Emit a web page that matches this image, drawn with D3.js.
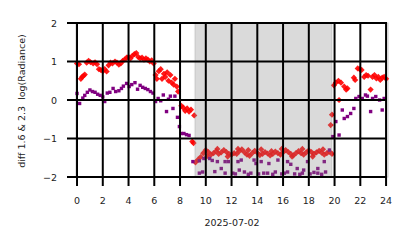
<!DOCTYPE html>
<html>
<head>
<meta charset="utf-8">
<script src="https://cdn.jsdelivr.net/npm/d3@7"></script>
<style>
	body { margin: 0; background: #fff; }
	text { font-family: "DejaVu Sans", sans-serif; fill: #222; }
</style>
</head>
<body>
<script>
// ticks and labels
var xTicks = [0, 2, 4, 6, 8, 10, 12, 14, 16, 18, 20, 22, 24];
var yTicks = [-2, -1, 0, 1, 2];
var xLabel = "2025-07-02";
var yLabel = "diff 1.6 & 2.3  log(Radiance)";
var nightSpan = [9.15, 19.8];

// [hour, value] for the red diamonds
var redObs = [
	[0.0,0.95],[0.15,0.93],[0.3,0.55],[0.4,0.6],[0.5,0.63],[0.6,0.66],[0.75,0.97],[0.9,1.02],
	[1.05,0.98],[1.25,0.95],[1.4,0.98],[1.55,0.93],[1.7,0.8],[1.85,0.78],[2.0,0.75],[2.15,0.8],
	[2.3,0.74],[2.45,0.9],[2.6,0.97],[2.75,0.95],[2.95,1.0],[3.1,0.97],[3.25,0.92],[3.4,0.95],
	[3.55,1.02],[3.7,1.05],[3.85,1.1],[4.0,1.12],[4.15,1.08],[4.3,1.15],[4.45,1.19],[4.6,1.22],
	[4.75,1.12],[4.9,1.08],[5.05,1.1],[5.2,1.05],[5.35,1.08],[5.5,1.05],[5.65,1.0],[5.8,1.03],
	[5.95,0.95],[6.1,0.65],[6.2,0.55],[6.35,0.75],[6.5,0.8],[6.6,0.55],[6.75,0.68],[6.85,0.6],
	[7.0,0.72],[7.1,0.5],[7.25,0.65],[7.35,0.45],[7.5,0.4],[7.6,0.55],[7.75,0.35],[7.85,0.22],
	[8.1,-0.15],[8.25,-0.2],[8.4,-0.28],[8.55,-0.22],[8.7,-0.3],[8.85,-0.25],[9.1,-0.4],
	[8.95,-1.08],[9.05,-1.12],
	[9.2,-1.62],[9.4,-1.55],[9.6,-1.48],[9.8,-1.38],[10.0,-1.3],[10.2,-1.35],[10.4,-1.42],[10.6,-1.38],
	[10.8,-1.33],[11.0,-1.4],[11.2,-1.36],[11.4,-1.3],[11.6,-1.35],[11.8,-1.4],[12.0,-1.42],[12.2,-1.38],
	[12.4,-1.4],[12.6,-1.33],[12.8,-1.28],[13.0,-1.36],[13.2,-1.42],[13.4,-1.45],[13.6,-1.38],[13.8,-1.32],
	[14.0,-1.37],[14.2,-1.43],[14.4,-1.4],[14.6,-1.35],[14.8,-1.39],[15.0,-1.44],[15.2,-1.4],[15.4,-1.34],
	[15.6,-1.38],[15.8,-1.42],[16.0,-1.36],[16.2,-1.3],[16.4,-1.35],[16.6,-1.4],[16.8,-1.44],[17.0,-1.38],
	[17.2,-1.33],[17.4,-1.38],[17.6,-1.42],[17.8,-1.36],[18.0,-1.31],[18.2,-1.35],[18.4,-1.4],[18.6,-1.36],
	[18.8,-1.32],[19.0,-1.37],[19.2,-1.42],[19.4,-1.38],[19.6,-1.34],[19.8,-1.4],
	[10.1,-1.46],[10.9,-1.27],[11.7,-1.47],[12.5,-1.27],[13.3,-1.3],[14.3,-1.28],[15.1,-1.33],[15.9,-1.27],
	[16.7,-1.47],[17.5,-1.27],[18.3,-1.47],[19.1,-1.28],
	[19.7,-0.65],[19.8,-0.38],[19.95,0.38],[20.1,0.45],[20.3,0.5],[20.35,0.0],[20.5,0.45],[20.75,0.35],
	[20.9,0.27],[21.0,0.3],[21.5,0.58],[21.6,0.52],[21.8,0.82],[21.95,0.8],[22.1,0.78],[22.3,0.6],
	[22.45,0.65],[22.6,0.63],[22.8,0.27],[22.95,0.6],[23.1,0.65],[23.25,0.56],[23.4,0.6],[23.55,0.52],
	[23.7,0.58],[23.85,0.6],[24.0,0.55]
];

// [hour, value] for the purple squares
var purpleObs = [
	[0.0,0.17],[0.2,-0.09],[0.45,0.05],[0.6,0.12],[0.8,0.2],[1.0,0.26],[1.2,0.22],[1.4,0.2],
	[1.6,0.15],[1.8,0.12],[2.0,0.08],[2.15,-0.04],[2.35,0.18],[2.55,0.2],[2.8,0.3],[3.0,0.22],
	[3.25,0.24],[3.45,0.3],[3.6,0.36],[3.85,0.43],[4.05,0.35],[4.25,0.4],[4.5,0.45],[4.7,0.28],
	[4.9,0.38],[5.1,0.33],[5.3,0.3],[5.5,0.27],[5.7,0.22],[5.9,0.18],[6.1,-0.04],[6.3,0.04],
	[6.5,-0.02],[6.7,0.13],[6.95,-0.3],[7.1,0.02],[7.25,0.1],[7.45,-0.22],[7.6,0.1],[7.8,-0.45],
	[7.95,-0.69],[8.1,-0.87],[8.3,-0.87],[8.5,-0.9],[8.7,-0.92],
	[9.0,-1.6],[9.5,-1.58],[9.5,-1.9],[9.75,-1.87],[9.85,-1.52],[10.3,-1.52],[10.5,-1.57],[10.7,-1.86],
	[10.9,-1.6],[11.2,-1.78],[11.5,-1.6],[11.5,-1.9],[11.75,-1.6],[12.1,-1.9],[12.3,-1.92],[12.5,-1.6],
	[12.6,-1.82],[12.75,-1.56],[13.0,-1.87],[13.3,-1.93],[13.5,-1.9],[13.75,-1.56],[13.9,-1.65],[14.1,-1.92],
	[14.3,-1.6],[14.5,-1.9],[14.8,-1.9],[14.9,-1.65],[15.2,-1.93],[15.4,-1.87],[15.6,-1.56],[15.9,-1.92],
	[16.1,-1.9],[16.35,-1.6],[16.35,-1.87],[16.6,-1.67],[16.9,-1.92],[17.1,-1.78],[17.3,-1.93],[17.5,-1.9],
	[17.6,-1.82],[17.9,-1.6],[18.1,-1.92],[18.4,-1.88],[18.7,-1.78],[18.7,-1.9],[19.0,-1.93],[19.2,-1.6],
	[19.3,-1.87],[19.6,-1.3],
	[19.85,-0.95],[20.1,-0.56],[20.35,-0.91],[20.6,-0.26],[20.75,-0.48],[21.0,-0.43],[21.25,-0.35],[21.5,-0.22],
	[21.65,0.04],[21.9,0.09],[22.15,0.04],[22.4,0.13],[22.55,0.1],[22.8,-0.3],[22.95,0.04],[23.2,0.09],
	[23.5,0.0],[23.7,-0.26],[23.85,0.04]
];

var W = 414, H = 248;
var svg = d3.select("body").append("svg").attr("width", W).attr("height", H);
svg.append("rect").attr("width", W).attr("height", H).attr("fill", "#fff");

var x = d3.scaleLinear().domain([-0.08, 24.15]).range([76, 388]);
var y = d3.scaleLinear().domain([-2, 2]).range([177, 23]);

// light frame
svg.append("rect")
	.attr("x", x.range()[0]).attr("y", 23)
	.attr("width", x.range()[1] - x.range()[0]).attr("height", 154)
	.attr("fill", "none").attr("stroke", "#cccccc").attr("stroke-width", 1);

// markers
var diamond = function(r) { return "M0," + (-r) + "L" + r + ",0L0," + r + "L" + (-r) + ",0Z"; };
svg.append("g").selectAll("path").data(redObs).join("path")
	.attr("d", diamond(3.1))
	.attr("transform", function(d) { return "translate(" + x(d[0]) + "," + y(d[1]) + ")"; })
	.attr("fill", "#ff0000").attr("fill-opacity", 0.9);

svg.append("g").selectAll("rect").data(purpleObs).join("rect")
	.attr("x", function(d) { return x(d[0]) - 1.7; })
	.attr("y", function(d) { return y(d[1]) - 1.7; })
	.attr("width", 3.4).attr("height", 3.4)
	.attr("fill", "#800080");

// night shading (on top of markers, like the reference)
svg.append("rect")
	.attr("x", x(nightSpan[0])).attr("y", 23)
	.attr("width", x(nightSpan[1]) - x(nightSpan[0])).attr("height", 154)
	.attr("fill", "#838383").attr("fill-opacity", 0.3)
	.attr("stroke", "#838383").attr("stroke-opacity", 0.15).attr("stroke-width", 2);

// grid + ticks
var g = svg.append("g");
g.selectAll(".vx").data(xTicks).join("line")
	.attr("x1", function(d) { return x(d); }).attr("x2", function(d) { return x(d); })
	.attr("y1", 23).attr("y2", 186)
	.attr("stroke", "#000").attr("stroke-width", 2);
g.selectAll(".hy").data(yTicks).join("line")
	.attr("y1", function(d) { return y(d); }).attr("y2", function(d) { return y(d); })
	.attr("x1", 67).attr("x2", 387)
	.attr("stroke", "#000").attr("stroke-width", 2);

var fmt = function(d) { return d < 0 ? "\u2212" + Math.abs(d) : "" + d; };
svg.append("g").selectAll("text").data(xTicks).join("text")
	.attr("x", function(d) { return x(d); }).attr("y", 204)
	.attr("text-anchor", "middle").attr("font-size", 9.5)
	.text(fmt);
svg.append("g").selectAll("text").data(yTicks).join("text")
	.attr("x", 57).attr("y", function(d) { return y(d) + 3.5; })
	.attr("text-anchor", "end").attr("font-size", 9.5)
	.text(fmt);

svg.append("text")
	.attr("x", 232).attr("y", 226)
	.attr("text-anchor", "middle").attr("font-size", 9.5)
	.text(xLabel);
svg.append("text")
	.attr("transform", "translate(25,101) rotate(-90)")
	.attr("text-anchor", "middle").attr("font-size", 9.5)
	.style("white-space", "pre")
	.text(yLabel);
</script>
</body>
</html>
